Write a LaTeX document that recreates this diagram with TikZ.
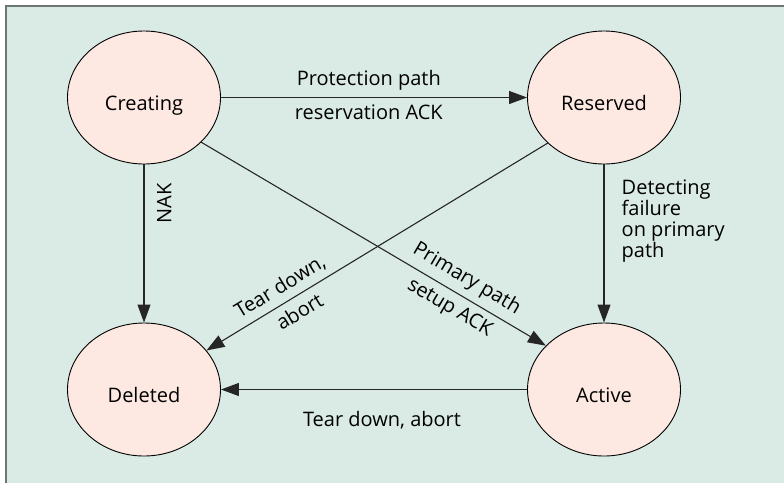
\documentclass[tikz,border=0pt]{standalone}
\usepackage{fontspec}
\setmainfont{Open Sans}
\usetikzlibrary{shapes.geometric,arrows.meta}
\definecolor{panelbg}{RGB}{218,235,229}
\definecolor{statefill}{RGB}{253,233,225}
\definecolor{framegray}{RGB}{108,118,113}
\begin{document}
\begin{tikzpicture}[x=1pt,y=-1pt,
  font=\fontsize{20}{21}\selectfont,
  state/.style={ellipse, draw=black, line width=0.9pt, fill=statefill,
    minimum width=153pt, minimum height=133pt, inner sep=0pt,
    text height=26pt, text depth=0pt},
  trans/.style={draw=black!85, line width=1.1pt,
    -{Triangle[length=18pt,width=13pt]}},
  lbl/.style={inner sep=6.5pt}]
\useasboundingbox (0,0) rectangle (784,483);
% panel and its frame
\fill[panelbg] (6,6) rectangle (784,483);
\draw[framegray, line width=2pt] (6,483) -- (6,6) -- (784,6);

% states
\node[state] (creating) at (144,97.5) {Creating};
\node[state] (reserved) at (604,97.5) {Reserved};
\node[state] (deleted)  at (144,389.5) {Deleted};
\node[state] (active)   at (604,389.5) {Active};

% transitions
\draw[trans] (creating) --
  node[lbl, pos=0.483, above] (protlbl) {Protection path}
  node[lbl, pos=0.483, below] (resvlbl) {reservation ACK} (reserved);

\draw[trans] (creating) --
  node[pos=0.248, rotate=90, anchor=north, inner sep=12.5pt] (naklbl) {NAK} (deleted);

\draw[trans] (reserved) -- (active);
\node[anchor=north west, align=left, inner sep=0pt] (detectlbl) at (621.5,180)
  {Detecting\\failure\\on primary\\path};

\draw[trans] (creating.-38) --
  node[lbl, pos=0.745, sloped, above] (primlbl) {Primary path}
  node[lbl, pos=0.745, sloped, below] (setuplbl) {setup ACK} (active.143);

\draw[trans] (reserved.219.5) --
  node[lbl, pos=0.76, sloped, above] (tearlbl) {Tear down,}
  node[lbl, pos=0.75, sloped, below] (abortlbl) {abort} (deleted.32);

\draw[trans] (active) -- (deleted);
\node[anchor=base] (teardownlbl) at (382,426.7) {Tear down, abort};
\end{tikzpicture}
\end{document}
